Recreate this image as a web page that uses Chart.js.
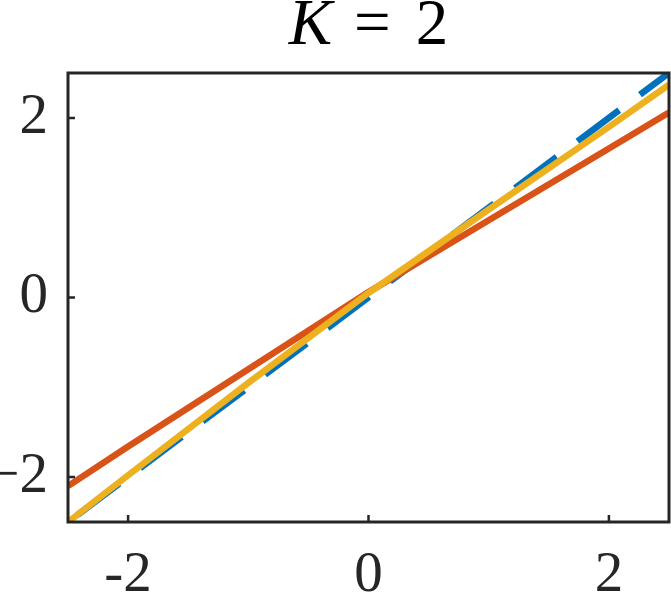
<!DOCTYPE html>
<html>
<head>
<meta charset="utf-8">
<script src="https://cdn.jsdelivr.net/npm/chart.js@4/dist/chart.umd.min.js"></script>
<style>
  html, body { margin: 0; padding: 0; background: #fff; }
  #wrap { position: relative; width: 671px; height: 594px; }
  #chartTitle {
    position: absolute; left: 68px; width: 601px; top: -11px;
    text-align: center; font-family: 'Liberation Serif', serif;
    font-size: 65px; color: #000; line-height: 66px; white-space: nowrap;
  }
  #chartTitle .eq { margin: 0 25px 0 22px; }
  canvas { position: absolute; left: 0; top: 0; }
</style>
</head>
<body>
<div id="wrap">
  <canvas id="plot" width="671" height="594"></canvas>
  <div id="chartTitle"><i>K</i><span class="eq">=</span>2</div>
</div>
<script>
const xs = [-2.5, -2, -1, 0, 1, 2, 2.5];
// reference line y = x (dashed blue)
const identityY = [-2.5, -2, -1, 0, 1, 2, 2.5];
// orange line
const orangeY = [-2.10, -1.66, -0.80, 0.06, 0.86, 1.66, 2.06];
// yellow line
const yellowY = [-2.50, -1.98, -0.95, 0.05, 0.98, 1.90, 2.37];

const xTicks = [-2, 0, 2];
const yTicks = [-2, 0, 2];

const colors = {
  blue: '#0072BD',
  orange: '#D95319',
  yellow: '#EDB120',
  axis: '#262626'
};

function toPoints(ys) {
  return xs.map((x, i) => ({ x, y: ys[i] }));
}

// box round the plot area plus inward ticks on left and bottom
const boxPlugin = {
  id: 'box',
  afterDatasetsDraw(chart) {
    const { ctx, chartArea: a, scales } = chart;
    ctx.save();
    ctx.strokeStyle = colors.axis;
    ctx.lineWidth = 3;
    ctx.strokeRect(a.left, a.top, a.right - a.left, a.bottom - a.top);
    ctx.lineWidth = 2.5;
    ctx.beginPath();
    xTicks.forEach(v => {
      const px = scales.x.getPixelForValue(v);
      ctx.moveTo(px, a.bottom);
      ctx.lineTo(px, a.bottom - 7);
    });
    yTicks.forEach(v => {
      const py = scales.y.getPixelForValue(v);
      ctx.moveTo(a.left, py);
      ctx.lineTo(a.left + 7, py);
    });
    ctx.stroke();
    ctx.restore();
  }
};

const tickFont = { family: "'Liberation Serif', serif", size: 57 };

new Chart(document.getElementById('plot'), {
  type: 'scatter',
  data: {
    datasets: [
      {
        data: toPoints(yellowY),
        showLine: true,
        borderColor: colors.yellow,
        borderWidth: 6.5,
        pointRadius: 0,
        order: 0
      },
      {
        data: toPoints(orangeY),
        showLine: true,
        borderColor: colors.orange,
        borderWidth: 6.5,
        pointRadius: 0,
        order: 1
      },
      {
        data: toPoints(identityY),
        showLine: true,
        borderColor: colors.blue,
        borderWidth: 6.5,
        borderDash: [52, 26],
        borderDashOffset: 66,
        pointRadius: 0,
        order: 2
      }
    ]
  },
  options: {
    responsive: false,
    animation: false,
    layout: { padding: { left: 0, right: 2, top: 73, bottom: 0 } },
    plugins: {
      legend: { display: false },
      tooltip: { enabled: false }
    },
    scales: {
      x: {
        type: 'linear',
        min: -2.5,
        max: 2.5,
        afterBuildTicks: s => { s.ticks = xTicks.map(v => ({ value: v })); },
        afterFit: s => { s.height = 72; },
        grid: { display: false, drawTicks: false },
        border: { display: false },
        ticks: {
          color: '#262626',
          font: tickFont,
          padding: 20,
          callback: v => String(v)
        }
      },
      y: {
        type: 'linear',
        min: -2.5,
        max: 2.5,
        afterBuildTicks: s => { s.ticks = yTicks.map(v => ({ value: v })); },
        afterFit: s => { s.width = 68; },
        grid: { display: false, drawTicks: false },
        border: { display: false },
        ticks: {
          color: '#262626',
          font: tickFont,
          padding: 20,
          callback: v => (v < 0 ? '\u2212' + Math.abs(v) : String(v))
        }
      }
    }
  },
  plugins: [boxPlugin]
});
</script>
</body>
</html>
